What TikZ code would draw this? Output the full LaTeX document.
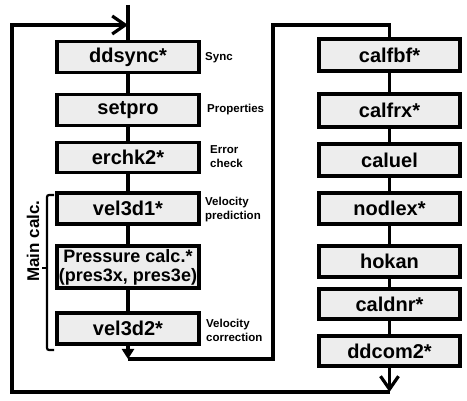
\documentclass[tikz,border=0pt]{standalone}
\usepackage{fontspec}
\setmainfont{Liberation Sans}
\usetikzlibrary{arrows.meta}
\definecolor{boxfill}{RGB}{237,237,237}
\begin{document}
\begin{tikzpicture}[x=1pt,y=-1pt,
  stepbox/.style={draw, line width=3.5pt, fill=boxfill, font=\bfseries\fontsize{20}{19}\selectfont, minimum width=142pt, inner sep=0pt, align=center},
  lbl/.style={anchor=west, font=\bfseries\fontsize{11.5}{14}\selectfont, align=left, inner sep=0pt},
  wire/.style={line width=3.2pt},
  barb/.style={-{Straight Barb[length=13pt,width=18pt]}},
  tri/.style={-{Triangle[length=10pt,width=12pt]}}
]
\useasboundingbox (0,0) rectangle (467,401);
% left column
\node[stepbox, minimum height=31pt] (ddsync) at (128,57) {ddsync*};
\node[stepbox, minimum height=31pt] (setpro) at (128,110) {setpro};
\node[stepbox, minimum height=30pt] (erchk) at (128,157.5) {erchk2*};
\node[stepbox, minimum height=31pt] (vel1) at (128,208.5) {vel3d1*};
\node[stepbox, minimum height=42pt, font=\bfseries\fontsize{18}{19}\selectfont] (press) at (128,267) {Pressure calc.*\\(pres3x, pres3e)};
\node[stepbox, minimum height=31pt] (vel2) at (128,328.5) {vel3d2*};
% right column
\node[stepbox, minimum width=141pt, minimum height=32pt] (calfbf) at (389.5,55) {calfbf*};
\node[stepbox, minimum width=141pt, minimum height=33pt] (calfrx) at (389.5,110.5) {calfrx*};
\node[stepbox, minimum width=141pt, minimum height=32pt] (caluel) at (389.5,160) {caluel};
\node[stepbox, minimum width=141pt, minimum height=31pt] (nodlex) at (389.5,208.5) {nodlex*};
\node[stepbox, minimum width=141pt, minimum height=31pt] (hokan) at (389.5,261.5) {hokan};
\node[stepbox, minimum width=141pt, minimum height=30pt] (caldnr) at (389.5,304) {caldnr*};
\node[stepbox, minimum width=141pt, minimum height=30pt] (ddcom) at (389.5,351) {ddcom2*};
% labels
\node[lbl] (lsync) at (205,58) {Sync};
\node[lbl] (lprop) at (207,110) {Properties};
\node[lbl] (lerr) at (210,157) {Error\\check};
\node[lbl] (lvp) at (205,210) {Velocity\\prediction};
\node[lbl] (lvc) at (206,330) {Velocity\\correction};
\node[rotate=90, font=\bfseries\fontsize{17}{18}\selectfont, inner sep=0pt] (main) at (33,241) {Main calc.};
% bracket
\draw[line width=2.2pt, rounded corners=2pt] (54,195) -- (47,195) -- (47,350) -- (54,350);
\draw[line width=2.2pt] (47,268) -- (42,268);
% coordinates
\coordinate (top) at (128,5);
\coordinate (join) at (128,25);
\coordinate (tl) at (12,25);
\coordinate (bl) at (12,392);
\coordinate (br) at (389.5,392);
\coordinate (v2end) at (128,359);
\coordinate (rb) at (273,359);
\coordinate (rt) at (273,25);
\coordinate (ct) at (389.5,25);
% connectors
\draw[wire] (top) -- (ddsync.north);
\draw[wire] (ddsync) -- (setpro);
\draw[wire] (setpro) -- (erchk);
\draw[wire] (erchk) -- (vel1);
\draw[wire] (vel1) -- (press);
\draw[wire] (press) -- (vel2);
\draw[wire, tri] (vel2.south) -- (v2end);
\draw[wire] (v2end) -- (rb) -- (rt) -- (ct) -- (calfbf.north);
\draw[wire] (calfbf) -- (calfrx);
\draw[wire] (calfrx) -- (caluel);
\draw[wire] (caluel) -- (nodlex);
\draw[wire] (nodlex) -- (hokan);
\draw[wire] (hokan) -- (caldnr);
\draw[wire] (caldnr) -- (ddcom);
\draw[wire, barb] (ddcom.south) -- (br);
\draw[wire, barb] (br) -- (bl) -- (tl) -- (join);
\end{tikzpicture}
\end{document}
